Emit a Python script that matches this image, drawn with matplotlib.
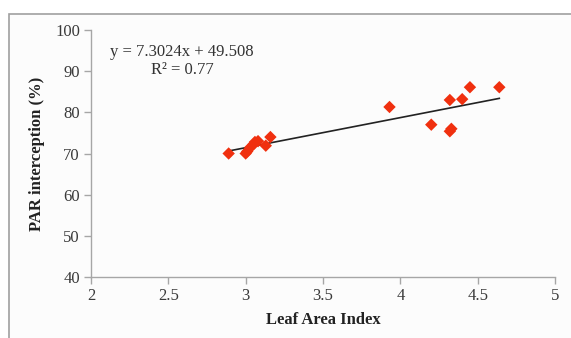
import matplotlib
matplotlib.use("Agg")
import matplotlib.pyplot as plt
from matplotlib.patches import Rectangle
import numpy as np

lai = [2.89, 3.00, 3.01, 3.03, 3.05, 3.06, 3.08, 3.13, 3.16, 3.93, 4.20, 4.32, 4.33, 4.32, 4.40, 4.45, 4.64]
par = [70.0, 70.0, 70.5, 71.5, 72.2, 72.8, 73.0, 71.9, 74.0, 81.3, 77.0, 83.0, 76.0, 75.4, 83.2, 86.1, 86.1]
slope = 7.3024
intercept = 49.508
r2 = 0.77
xticks = [2, 2.5, 3, 3.5, 4, 4.5, 5]
yticks = [40, 50, 60, 70, 80, 90, 100]

plt.rcParams['font.family'] = ['Liberation Serif', 'DejaVu Serif']

fig = plt.figure(figsize=(5.71, 3.38), dpi=100)
fig.patch.set_facecolor('white')

bg = fig.add_axes([0, 0, 1, 1], zorder=-1)
bg.set_xlim(0, 571)
bg.set_ylim(338, 0)
bg.axis('off')
bg.add_patch(Rectangle((9, 14), 600, 400, facecolor='#fcfcfc', edgecolor='#a0a0a0', linewidth=1.2))

ax = fig.add_axes([91/571, 1 - 277/338, (555 - 91)/571, (277 - 30)/338])
ax.set_facecolor('none')
ax.set_xlim(2, 5)
ax.set_ylim(40, 100)
ax.set_xticks(xticks)
ax.set_xticklabels([f"{t:g}" for t in xticks])
ax.set_yticks(yticks)
for s in ['top', 'right']:
    ax.spines[s].set_visible(False)
for s in ['left', 'bottom']:
    ax.spines[s].set_color('#a6a6a6')
    ax.spines[s].set_linewidth(1.0)
ax.tick_params(axis='both', direction='out', length=5, color='#a6a6a6', width=1.0,
               labelsize=12, labelcolor='#3a3a3a', pad=3)

ax.scatter(lai, par, marker='D', s=40, color='#f0300f', edgecolors='none', zorder=3)
xs = np.array([min(lai), max(lai)])
ax.plot(xs, slope * xs + intercept, color='#222222', linewidth=1.2, zorder=2)

ax.text(0.195, 0.91, f"y = {slope}x + {intercept}", transform=ax.transAxes, ha='center', va='center',
        fontsize=12, color='#333333')
ax.text(0.196, 0.838, f"R² = {r2}", transform=ax.transAxes, ha='center', va='center',
        fontsize=12, color='#333333')

ax.set_xlabel('Leaf Area Index', fontsize=12, fontweight='bold', color='#222222', labelpad=6)
ax.set_ylabel('PAR interception (%)', fontsize=12, fontweight='bold', color='#222222', labelpad=7)

fig.savefig('out.png', dpi=100)
